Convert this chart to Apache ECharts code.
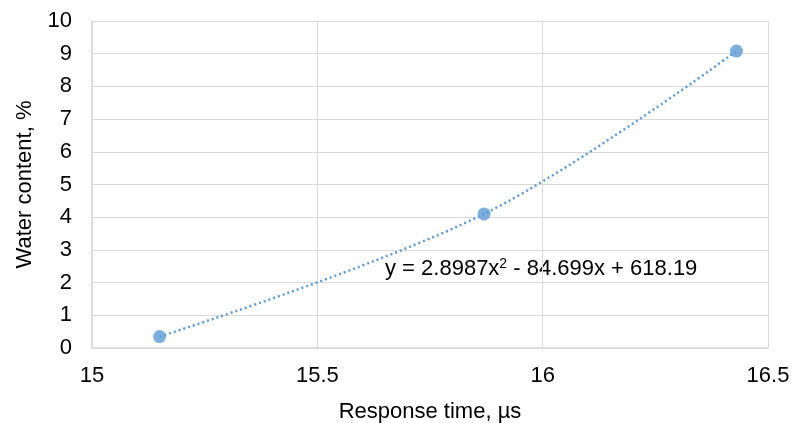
<!DOCTYPE html>
<html>
<head>
<meta charset="utf-8">
<script src="https://cdn.jsdelivr.net/npm/echarts@6/dist/echarts.min.js"></script>
<style>
  html, body { margin: 0; padding: 0; background: #fff; }
  #chart { width: 794px; height: 423px; }
</style>
</head>
<body>
<div id="chart"></div>
<script>
// measured points
var responseTime = [15.15, 15.87, 16.43]
var waterContent = [0.35, 4.1, 9.08]
var trendLabel = 'y = 2.8987x{sup|2} - 84.699x + 618.19'

var points = responseTime.map(function (x, i) { return [x, waterContent[i]] })

var chart = echarts.init(document.getElementById('chart'), null, { renderer: 'canvas' })
chart.setOption({
  animation: false,
  textStyle: { fontFamily: 'Liberation Sans, Arial, sans-serif' },
  grid: { left: 92, right: 26, top: 21, bottom: 75, outerBoundsMode: 'none' },
  xAxis: {
    type: 'value',
    min: 15,
    max: 16.5,
    interval: 0.5,
    name: 'Response time, µs',
    nameLocation: 'middle',
    nameGap: 53,
    nameTextStyle: { fontSize: 22, color: '#000' },
    axisLine: { lineStyle: { color: '#d9d9d9', width: 1.5 } },
    axisTick: { show: false },
    axisLabel: { fontSize: 22, color: '#000', margin: 17 },
    splitLine: { lineStyle: { color: '#d9d9d9', width: 1 } }
  },
  yAxis: {
    type: 'value',
    min: 0,
    max: 10,
    interval: 1,
    name: 'Water content, %',
    nameLocation: 'middle',
    nameGap: 56,
    nameTextStyle: { fontSize: 22, color: '#000' },
    axisLine: { show: true, lineStyle: { color: '#d9d9d9', width: 1.5 } },
    axisTick: { show: false },
    axisLabel: { fontSize: 22, color: '#000', margin: 20 },
    splitLine: { lineStyle: { color: '#d9d9d9', width: 1 } }
  },
  series: [
    {
      // trendline, dotted
      type: 'line',
      data: points,
      smooth: 0.35,
      showSymbol: false,
      lineStyle: { color: '#5b9bd5', width: 2.5, type: [2, 3] },
      z: 2
    },
    {
      type: 'scatter',
      data: points,
      symbolSize: 13,
      itemStyle: { color: '#5b9bd5' },
      z: 3
    }
  ],
  graphic: [
    {
      type: 'text',
      left: 385,
      top: 257,
      style: {
        text: trendLabel,
        fontSize: 22,
        fontFamily: 'Liberation Sans, Arial, sans-serif',
        fill: '#000',
        rich: {
          sup: { fontSize: 14, verticalAlign: 'top', padding: [0, 0, 10, 0] }
        }
      }
    }
  ]
})
</script>
</body>
</html>
